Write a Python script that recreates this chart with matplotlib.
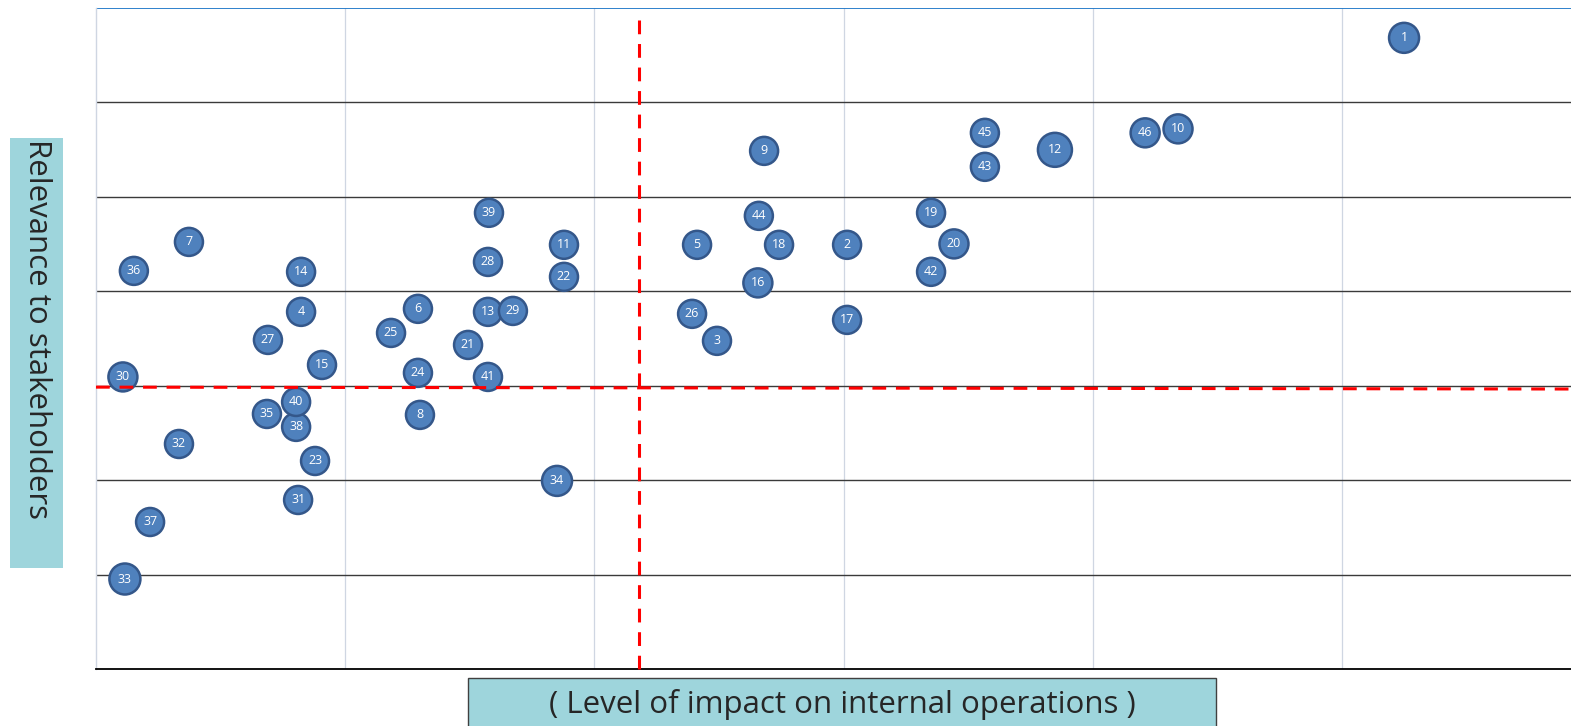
import matplotlib.pyplot as plt
from matplotlib.patches import Rectangle
import numpy as np

# 議題編號、對內部營運衝擊程度 (x)、對利害關係人關聯性 (y)
issue_id = [1, 2, 3, 4, 5, 6, 7, 8, 9, 10,
            11, 12, 13, 14, 15, 16, 17, 18, 19, 20,
            21, 22, 23, 24, 25, 26, 27, 28, 29, 30,
            31, 32, 33, 34, 35, 36, 37, 38, 39, 40,
            41, 42, 43, 44, 45, 46]
impact = [5.249, 3.014, 2.492, 0.823, 2.412, 1.292, 0.373, 1.300, 2.681, 4.342,
          1.878, 3.848, 1.573, 0.823, 0.907, 2.656, 3.014, 2.741, 3.351, 3.443,
          1.493, 1.878, 0.879, 1.292, 1.184, 2.392, 0.690, 1.573, 1.673, 0.108,
          0.811, 0.333, 0.116, 1.850, 0.686, 0.152, 0.217, 0.803, 1.577, 0.803,
          1.573, 3.351, 3.567, 2.660, 3.567, 4.210]
relevance = [6.684, 4.492, 3.475, 3.782, 4.492, 3.814, 4.523, 2.691, 5.487, 5.720,
             4.492, 5.498, 3.782, 4.206, 3.220, 4.089, 3.697, 4.492, 4.831, 4.502,
             3.432, 4.153, 2.203, 3.136, 3.559, 3.761, 3.485, 4.311, 3.792, 3.093,
             1.790, 2.383, 0.953, 1.992, 2.701, 4.216, 1.557, 2.564, 4.831, 2.828,
             3.093, 4.206, 5.318, 4.799, 5.678, 5.678]
# 泡泡大小 (直徑, px)
bubble_size = [30, 28, 28, 28, 28, 28, 28, 28, 28, 29,
               28, 34, 28, 28, 28, 29, 28, 28, 28, 29,
               28, 28, 28, 28, 28, 28, 28, 28, 28, 29,
               28, 28, 31, 30, 28, 28, 28, 28, 28, 28,
               28, 28, 28, 28, 28, 29]

# 門檻線
impact_cut = 2.18
relevance_cut = (2.985, 2.965)

W, H = 1571, 726
fig = plt.figure(figsize=(W / 100, H / 100), dpi=100)
ax = fig.add_axes([96 / W, 57 / H, 1475 / W, 661 / H])
ax.set_xlim(0, 1475 / 249.2)
ax.set_ylim(0, 7)

# 格線
for gx in range(1, 6):
    ax.axvline(gx, color='#cfd6e2', lw=0.9, zorder=1)
for gy in range(1, 7):
    ax.axhline(gy, color='#3a3a3a', lw=1.0, zorder=1)
ax.axhline(7, color='#1f77c8', lw=1.3, zorder=1)

for s in ['top', 'right']:
    ax.spines[s].set_visible(False)
ax.spines['left'].set_color('#cfd6e2')
ax.spines['left'].set_linewidth(1.0)
ax.spines['bottom'].set_color('black')
ax.spines['bottom'].set_linewidth(1.3)
ax.set_xticks([])
ax.set_yticks([])

# 泡泡
diam_pt = np.array(bubble_size) * 0.72
ax.scatter(impact, relevance, s=diam_pt ** 2, color='#4f81bd',
           edgecolor='#34578a', linewidth=1.8, zorder=3)
for i, x, y in zip(issue_id, impact, relevance):
    ax.text(x, y, str(i), color='white', fontsize=9, family='Open Sans',
            ha='center', va='center', zorder=4)

# 紅色虛線 (門檻)
ax.plot([impact_cut, impact_cut], [0, 6.93], color='#ff0000', lw=2.2,
        linestyle=(0, (4.5, 3.2)), zorder=5, clip_on=False)
ax.plot([0, ax.get_xlim()[1]], list(relevance_cut), color='#ff0000', lw=2.2,
        linestyle=(0, (4.5, 3.2)), zorder=5, clip_on=False)

# 座標軸標題框
fig.patches.append(Rectangle((10 / W, (H - 568) / H), 53 / W, 430 / H,
                             transform=fig.transFigure, facecolor='#9ed5dc',
                             edgecolor='none'))
fig.text(37 / W, (H - 139) / H, 'Relevance to stakeholders', rotation=-90,
         ha='center', va='top', fontsize=22.5, family='Open Sans', color='#262626')

fig.patches.append(Rectangle((468 / W, -10 / H), 748 / W, (H - 678 + 10) / H,
                             transform=fig.transFigure, facecolor='#9ed5dc',
                             edgecolor='#404040', linewidth=1.0))
fig.text(842 / W, (H - 705) / H, '( Level of impact on internal operations )',
         ha='center', va='center', fontsize=22.5, family='Open Sans', color='#262626')

fig.savefig('out.png', dpi=100)
